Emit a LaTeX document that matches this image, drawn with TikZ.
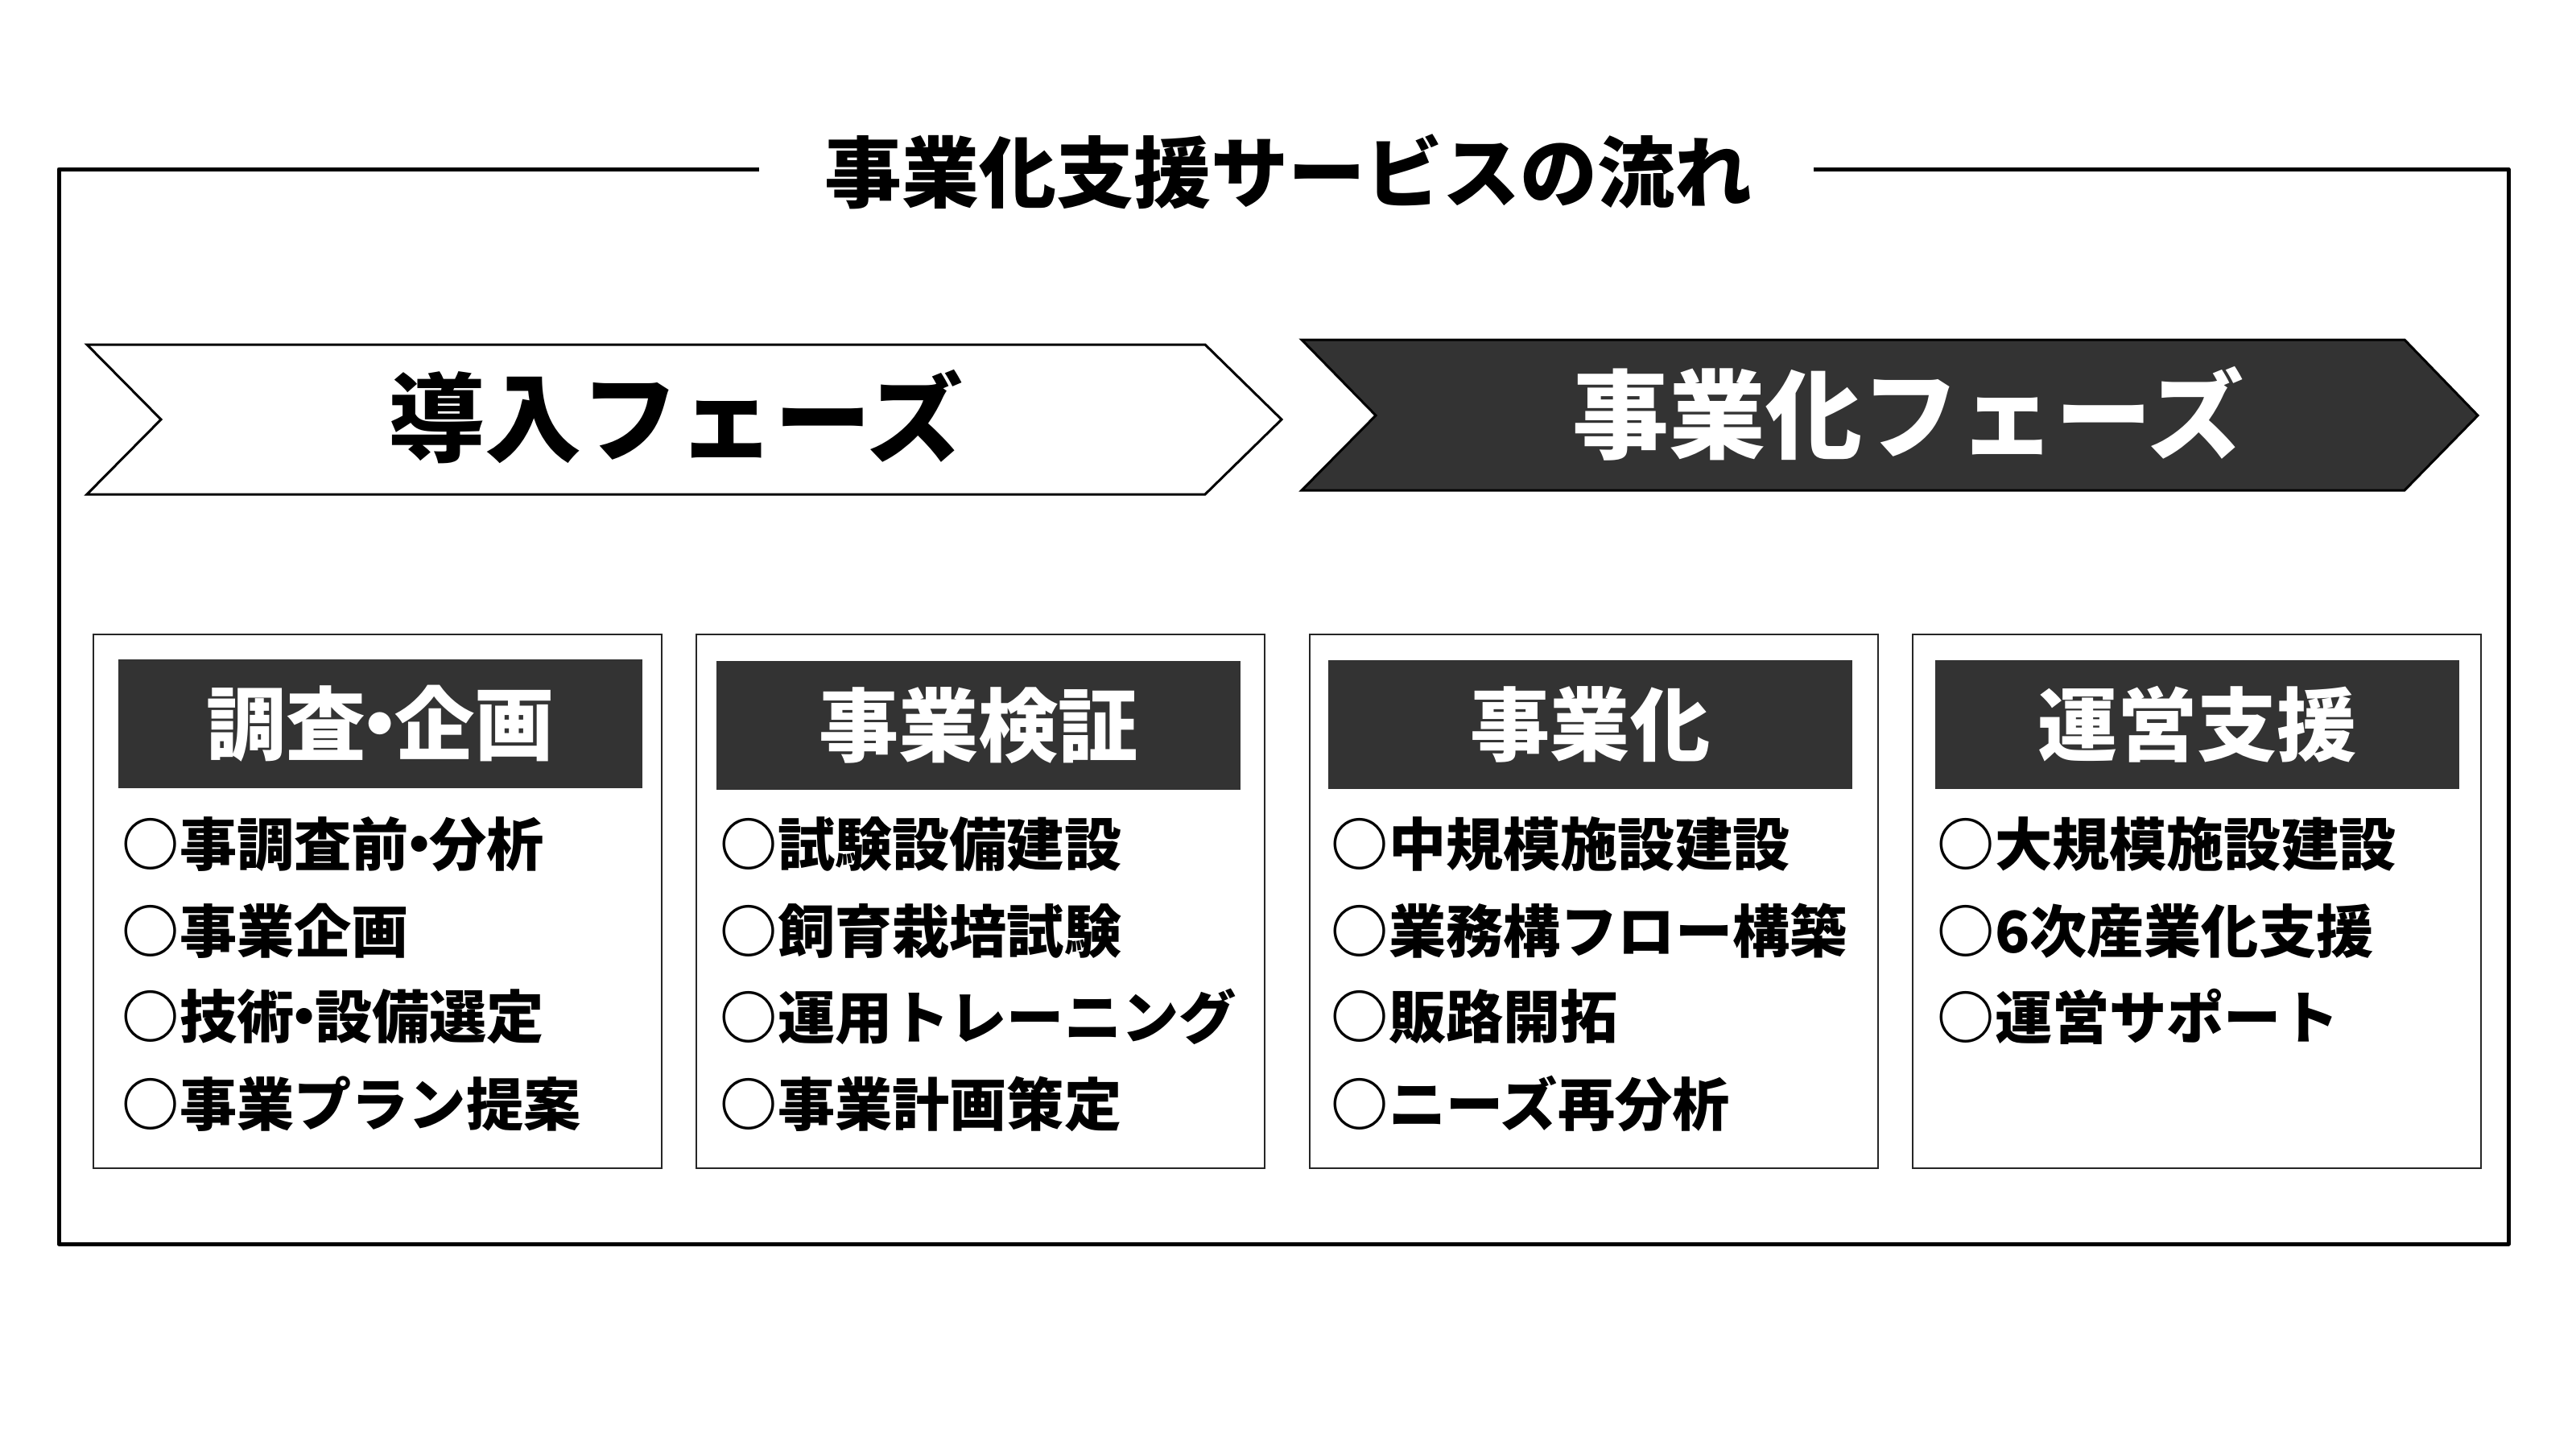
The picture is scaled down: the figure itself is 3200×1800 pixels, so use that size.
\documentclass[tikz,border=0pt]{standalone}
\usepackage{fontspec}
\setmainfont{Noto Sans CJK JP}
\definecolor{hdrgray}{HTML}{333333}
\newcommand{\ndot}{\makebox[0.36em][c]{・}}
\tikzset{
  frameline/.style={line width=1.25pt, line join=round},
  chev/.style={line width=0.75pt, line join=miter},
  card/.style={draw=black!85, line width=0.35pt, minimum width=176.5pt, minimum height=165.75pt, inner sep=0},
  hdr/.style={fill=hdrgray, draw=none, text=white, minimum width=162.75pt, minimum height=40pt, inner sep=0, font=\bfseries\fontsize{24.8}{28}\selectfont},
  item/.style={anchor=west, inner sep=0, font=\bfseries\fontsize{17.8}{22}\selectfont},
  chevtext/.style={inner sep=0, font=\bfseries\fontsize{30}{34}\selectfont},
  titletext/.style={inner sep=0, font=\bfseries\fontsize{24}{28}\selectfont}
}
\begin{document}
\begin{tikzpicture}[x=0.25pt,y=-0.25pt]
\useasboundingbox (0,0) rectangle (3200,1800);
% outer frame with title gap
\node[titletext] (title) at (1600,213) {事業化支援サービスの流れ};
\coordinate (fl) at (943,210);
\coordinate (fr) at (2253,210);
\draw[frameline] (fl) -- (73,210) -- (73,1545) -- (3116,1545) -- (3116,210) -- (fr);
% chevrons
\draw[chev, fill=white] (108,428) -- (1497,428) -- (1592,521) -- (1497,614) -- (108,614) -- (200,521) -- cycle;
\node[chevtext] (phase1) at (839,518) {導入フェーズ};
\draw[chev, fill=hdrgray] (1617,422) -- (2987,422) -- (3078,516) -- (2987,609) -- (1617,609) -- (1709,516) -- cycle;
\node[chevtext, text=white] (phase2) at (2370,514) {事業化フェーズ};
% cards
\node[card] (c1) at (469,1119.5) {};
\node[card] (c2) at (1218,1119.5) {};
\node[card] (c3) at (1980,1119.5) {};
\node[card] (c4) at (2729,1119.5) {};
\node[hdr] (h1) at (472.5,899) {調査\ndot 企画};
\node[hdr] (h2) at (1215.5,901) {事業検証};
\node[hdr] (h3) at (1975.5,900) {事業化};
\node[hdr] (h4) at (2729.5,900) {運営支援};
% items
\node[item] (a1) at (151,1049) {○事調査前\ndot 分析};
\node[item] (a2) at (151,1156) {○事業企画};
\node[item] (a3) at (151,1263) {○技術\ndot 設備選定};
\node[item] (a4) at (151,1371) {○事業プラン提案};
\node[item] (b1) at (894,1049) {○試験設備建設};
\node[item] (b2) at (894,1156) {○飼育栽培試験};
\node[item] (b3) at (894,1263) {○運用トレーニング};
\node[item] (b4) at (894,1371) {○事業計画策定};
\node[item] (d1) at (1653,1049) {○中規模施設建設};
\node[item] (d2) at (1653,1156) {○業務構フロー構築};
\node[item] (d3) at (1653,1263) {○販路開拓};
\node[item] (d4) at (1653,1371) {○ニーズ再分析};
\node[item] (e1) at (2406,1049) {○大規模施設建設};
\node[item] (e2) at (2406,1156) {○6次産業化支援};
\node[item] (e3) at (2406,1263) {○運営サポート};
\end{tikzpicture}
\end{document}
